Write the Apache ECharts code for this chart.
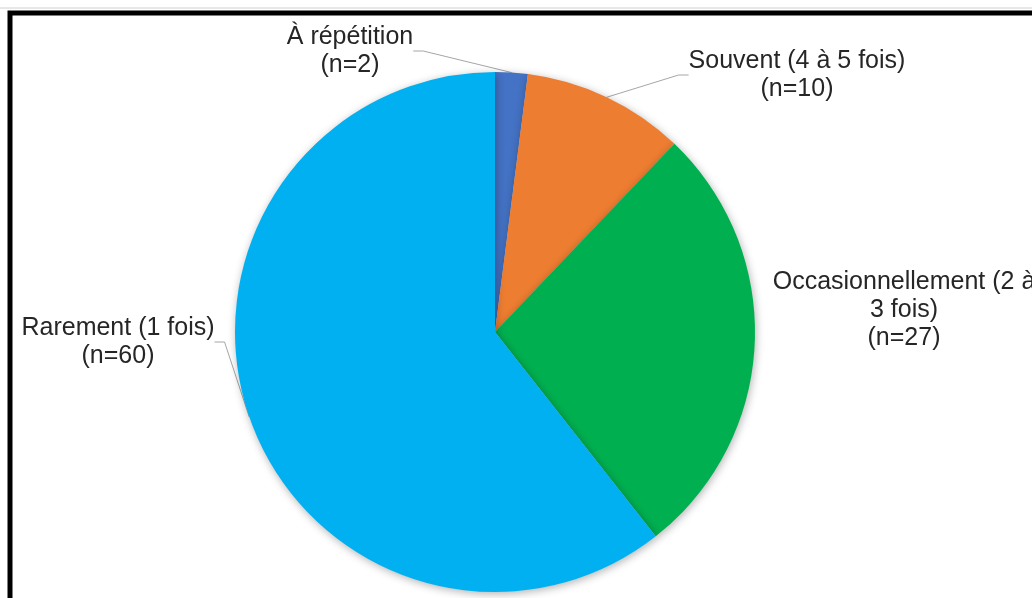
<!DOCTYPE html>
<html>
<head>
<meta charset="utf-8">
<script src="https://cdn.jsdelivr.net/npm/echarts@6/dist/echarts.min.js"></script>
<style>
  html, body { margin: 0; padding: 0; background: #fff; }
  #chart { width: 1032px; height: 598px; }
</style>
</head>
<body>
<div id="chart"></div>
<script>
// catégories et effectifs
const categories = ['À répétition', 'Souvent (4 à 5 fois)', 'Occasionnellement (2 à 3 fois)', 'Rarement (1 fois)']
const counts = [2, 10, 27, 60]
const labelTexts = ['À répétition', 'Souvent (4 à 5 fois)', 'Occasionnellement (2 à\n3 fois)', 'Rarement (1 fois)']
const colors = ['#4472C4', '#ED7D31', '#00B050', '#00B0F0']

// position des étiquettes (centre du bloc de texte)
const labelPos = [[350, 51], [797, 75], [904, 310], [118, 342]]

const chart = echarts.init(document.getElementById('chart'))

const option = {
  backgroundColor: '#fff',
  animation: false,
  graphic: [
    { type: 'line', shape: { x1: 0, y1: 8, x2: 1032, y2: 8 }, style: { stroke: '#d0d0d0', lineWidth: 1 } },
    { type: 'rect', shape: { x: 10, y: 13, width: 1100, height: 700 }, style: { fill: 'none', stroke: '#000', lineWidth: 5 } }
  ],
  series: [{
    type: 'pie',
    center: [495, 332],
    radius: 260,
    startAngle: 90,
    clockwise: true,
    data: categories.map((c, i) => ({
      name: c,
      value: counts[i],
      itemStyle: { color: colors[i] },
      label: { formatter: labelTexts[i] + '\n(n=' + counts[i] + ')' },
      labelLine: { show: i !== 2 }
    })),
    itemStyle: {
      shadowBlur: 8,
      shadowColor: 'rgba(0,0,0,0.3)',
      shadowOffsetX: 1,
      shadowOffsetY: 2
    },
    label: {
      show: true,
      position: 'outside',
      fontFamily: 'Liberation Sans, Arial, sans-serif',
      fontSize: 25,
      lineHeight: 28,
      color: '#262626',
      align: 'center',
      overflow: 'none'
    },
    labelLine: {
      show: true,
      length: 20,
      length2: 10,
      lineStyle: { color: '#a6a6a6', width: 1 }
    },
    labelLayout: function (params) {
      const p = labelPos[params.dataIndex]
      return { x: p[0], y: p[1], align: 'center', verticalAlign: 'middle' }
    }
  }]
}

chart.setOption(option)
</script>
</body>
</html>
